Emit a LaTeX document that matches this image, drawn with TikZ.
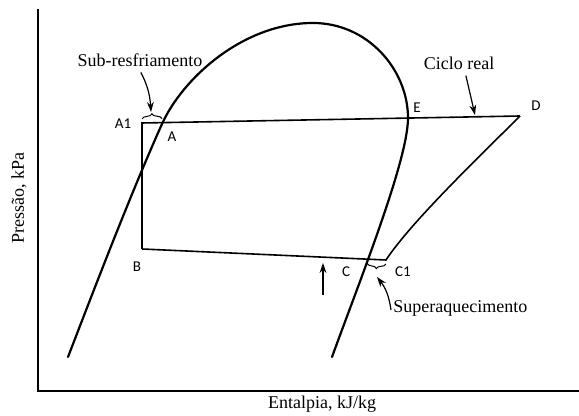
\documentclass[tikz,border=0pt]{standalone}
\usepackage{fontspec}
\setmainfont{Liberation Serif}
\newfontfamily\ptfont{Carlito}
\usetikzlibrary{arrows.meta,decorations.pathreplacing}

\begin{document}
\begin{tikzpicture}[
  x=0.5pt, y=-0.5pt,
  font=\fontsize{9}{10}\selectfont,
  >={Stealth[length=5pt,width=3.4pt]},
  axis/.style={line width=0.6pt},
  dome/.style={line width=1.1pt, line cap=round},
  cycleline/.style={line width=0.8pt, line join=miter},
  ptlabel/.style={font=\ptfont\fontsize{7.5}{8}\selectfont, inner sep=0pt},
  note/.style={inner sep=1pt},
  pointer/.style={->, line width=0.6pt},
  bracemark/.style={decorate, decoration={brace, amplitude=2.5pt}, line width=0.5pt},
]
\useasboundingbox (0,0) rectangle (579,416);
% axes
\coordinate (origin) at (38,391);
\coordinate (ytop) at (38,9);
\coordinate (xend) at (579,391);
\draw[axis] (ytop) -- (origin) -- (xend);
\node[rotate=90] (ylabel) at (19,198) {Pressão, kPa};
\node (xlabel) at (322,404) {Entalpia, kJ/kg};
% saturation dome
\coordinate (liqend) at (68,357);
\coordinate (liqmid) at (162,124);
\coordinate (crit) at (313,23);
\coordinate (vapmid) at (408,118);
\coordinate (vapend) at (332,357);
\draw[dome] (liqend) .. controls (90,300) and (130,195) .. (liqmid)
  .. controls (182.5,78.5) and (243,23) .. (crit)
  .. controls (368,23) and (408,70) .. (vapmid)
  .. controls (408,160) and (360,280) .. (vapend);
% cycle points
\coordinate (A1) at (142,123);
\coordinate (A) at (162,122.6);
\coordinate (E) at (408,118);
\coordinate (D) at (520,116);
\coordinate (B) at (142,249);
\coordinate (C) at (367,259.2);
\coordinate (C1) at (386,260);
\draw[cycleline] (B) -- (A1) -- (D);
\draw[cycleline] (B) -- (C1) .. controls (411,222) and (480,156) .. (D);
\node[ptlabel] (lblA1) at (123,124) {A1};
\node[ptlabel] (lblA) at (172,137) {A};
\node[ptlabel] (lblE) at (417,108) {E};
\node[ptlabel] (lblD) at (536,106) {D};
\node[ptlabel] (lblB) at (137,267) {B};
\node[ptlabel] (lblC) at (346,272) {C};
\node[ptlabel] (lblC1) at (403,272) {C1};
% notes
\draw[bracemark] ([yshift=2pt]A1) -- ([yshift=2pt]A);
\draw[bracemark] ([yshift=-2pt]C1) -- ([yshift=-2pt]C);
\node[note] (subnote) at (140,60) {Sub-resfriamento};
\node[note] (ciclonote) at (459,63) {Ciclo real};
\node[note, anchor=west] (supernote) at (391,308) {Superaquecimento};
\coordinate (subtip) at (151,112);
\coordinate (ciclotip) at (475,115);
\coordinate (supertip) at (377,277);
\coordinate (flowbot) at (323,295);
\coordinate (flowtop) at (323,263);
\draw[pointer, shorten <=2pt] ([xshift=-0.5pt]subnote.south) to[bend left=12] (subtip);
\draw[pointer, shorten <=2pt] ([xshift=3pt]ciclonote.south) -- (ciclotip);
\draw[pointer] ([yshift=-1pt]supernote.west) to[bend right=15] (supertip);
\draw[pointer] (flowbot) -- (flowtop);
\end{tikzpicture}
\end{document}
